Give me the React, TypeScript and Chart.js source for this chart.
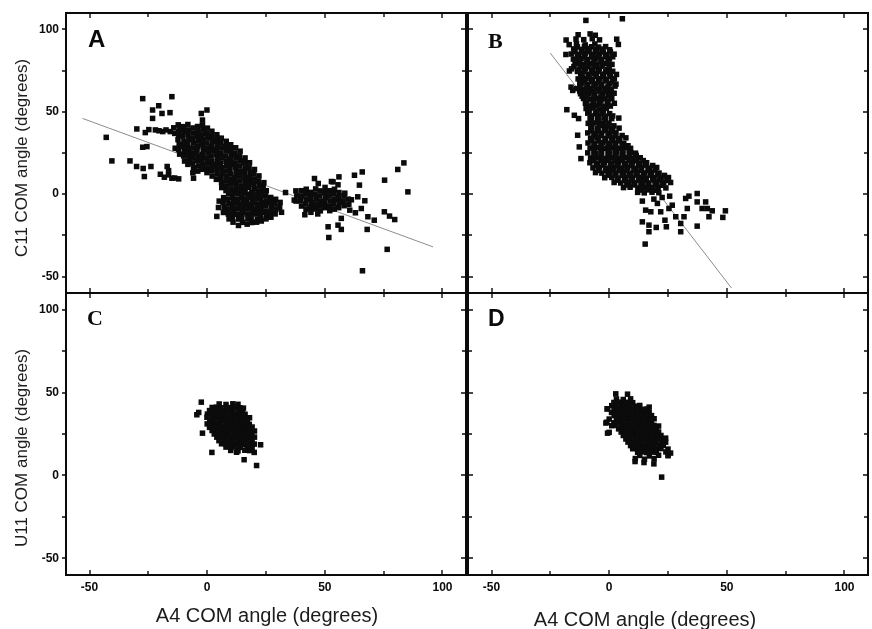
import React, { useEffect, useRef } from "react";
import { Chart, registerables } from "chart.js";

Chart.register(...registerables);

// ---------- axes ----------
const AXIS_MIN = -60;
const AXIS_MAX = 110;
const tickValues = [-50, -25, 0, 25, 50, 75, 100];
const labelledTicks = [-50, 0, 50, 100];

// ---------- titles ----------
const panelLetters = ["A", "B", "C", "D"];
const xTitle = "A4 COM angle (degrees)";
const yTitleTop = "C11 COM angle (degrees)";
const yTitleBottom = "U11 COM angle (degrees)";

// ---------- panel A : A4 vs C11 (simulation 1) ----------
const panelAScatter = [
  [-42.9, 34.5], [-40.5, 20.2], [-32.8, 20.2], [-29.9, 39.6], [-27.4, 58.0], [-26.3, 37.4], [-30.0, 16.8],
  [-27.2, 15.6], [-26.7, 10.7], [-27.4, 28.5], [-25.6, 28.9], [-23.9, 16.8], [-23.2, 51.1], [-20.6, 53.7],
  [-23.2, 46.0], [-19.2, 49.0], [-22.0, 39.0], [-18.9, 38.0], [-19.9, 12.1], [-16.4, 11.7], [-15.0, 59.2],
  [-15.8, 49.5], [-17.0, 16.8], [-16.4, 14.3], [-15.0, 9.7], [-12.1, 9.3], [-13.6, 27.9], [-11.4, 28.9],
  [-15.7, 38.0], [-11.2, 40.0], [-12.1, 38.0], [-5.8, 9.7], [-2.5, 49.0], [-0.1, 51.1], [-2.0, 45.0],
  [4.4, 34.0], [-20.5, 38.5], [-17.5, 39.0], [-24.8, 39.2], [-18.2, 10.3], [-13.8, 9.8],
];
const panelABand = [
  [-14.2, 40.3], [-13.8, 36.9],
  [-12.3, 42.1], [-11.8, 39.2], [-12.1, 36.0], [-12.4, 33.1], [-11.9, 30.2], [-12.2, 27.0], [-11.7, 24.3],
  [-10.1, 41.0], [-9.8, 38.1], [-10.3, 35.2], [-9.9, 32.0], [-10.2, 29.1], [-9.7, 26.0], [-10.0, 23.2], [-9.6, 20.1],
  [-8.2, 42.3], [-7.9, 39.0], [-8.1, 36.1], [-7.8, 33.2], [-8.3, 30.0], [-7.9, 27.1], [-8.0, 24.0], [-7.7, 21.2], [-8.2, 18.1],
  [-6.0, 40.2], [-5.8, 37.1], [-6.2, 34.0], [-5.9, 31.2], [-6.1, 28.1], [-5.7, 25.0], [-6.0, 22.1], [-6.3, 19.0], [-5.8, 16.2], [-6.1, 13.0],
  [-4.1, 41.1], [-3.9, 38.0], [-4.2, 35.1], [-3.8, 32.2], [-4.0, 29.0], [-4.3, 26.1], [-3.9, 23.0], [-4.1, 20.2], [-3.7, 17.1], [-4.0, 14.0],
  [-2.0, 42.0], [-1.8, 39.1], [-2.2, 36.0], [-1.9, 33.1], [-2.1, 30.2], [-1.7, 27.0], [-2.0, 24.1], [-2.3, 21.0], [-1.9, 18.2], [-2.1, 15.1],
  [0.1, 40.1], [-0.2, 37.0], [0.2, 34.2], [-0.1, 31.1], [0.0, 28.0], [0.3, 25.1], [-0.2, 22.0], [0.1, 19.2], [0.2, 16.0], [-0.1, 13.1],
  [2.0, 38.2], [1.8, 35.0], [2.2, 32.1], [1.9, 29.0], [2.1, 26.2], [1.7, 23.1], [2.0, 20.0], [2.3, 17.1], [1.9, 14.2], [2.1, 11.0],
  [4.1, 36.1], [3.8, 33.0], [4.2, 30.2], [3.9, 27.1], [4.0, 24.0], [4.3, 21.2], [3.8, 18.0], [4.1, 15.1], [4.2, 12.2], [3.9, 9.0],
  [6.0, 34.0], [5.8, 31.2], [6.2, 28.1], [5.9, 25.0], [6.1, 22.2], [5.7, 19.0], [6.0, 16.1], [6.3, 13.0], [5.9, 10.2], [6.1, 7.1], [6.2, 4.0],
  [8.1, 32.1], [7.8, 29.0], [8.2, 26.2], [7.9, 23.1], [8.0, 20.0], [8.3, 17.2], [7.8, 14.1], [8.1, 11.0], [8.2, 8.1], [7.9, 5.0], [8.0, 2.2],
  [10.0, 30.0], [9.8, 27.1], [10.2, 24.0], [9.9, 21.2], [10.1, 18.1], [9.7, 15.0], [10.0, 12.2], [10.3, 9.0], [9.9, 6.1], [10.1, 3.0],
  [12.1, 28.2], [11.8, 25.0], [12.2, 22.1], [11.9, 19.0], [12.0, 16.2], [12.3, 13.1], [11.8, 10.0], [12.1, 7.2], [12.2, 4.1], [11.9, 1.0],
  [14.0, 26.1], [13.8, 23.0], [14.2, 20.2], [13.9, 17.1], [14.1, 14.0], [13.7, 11.2], [14.0, 8.1], [14.3, 5.0], [13.9, 2.1],
  [16.1, 22.0], [15.8, 19.1], [16.2, 16.0], [15.9, 13.2], [16.0, 10.1], [16.3, 7.0], [15.8, 4.2], [16.1, 1.1],
  [18.0, 19.1], [17.8, 16.0], [18.2, 13.1], [17.9, 10.0], [18.1, 7.2], [17.7, 4.1],
  [20.1, 15.0], [19.8, 12.2], [20.2, 9.1], [19.9, 6.0], [20.0, 3.1],
  [22.0, 11.1], [21.8, 8.0], [22.2, 5.2], [21.9, 2.0],
  [24.1, 7.0], [23.8, 4.1],
];
const panelALobe = [
  [5.1, -4.2], [4.8, -8.1], [4.1, -13.5],
  [7.0, -2.1], [6.8, -5.0], [7.2, -8.2], [6.9, -11.1],
  [9.1, 0.2], [8.8, -3.1], [9.2, -6.0], [8.9, -9.2], [9.0, -12.1], [9.3, -15.0],
  [11.0, 1.1], [10.8, -2.0], [11.2, -5.1], [10.9, -8.0], [11.1, -11.2], [10.7, -14.1], [11.0, -17.0],
  [13.1, 0.1], [12.8, -3.2], [13.2, -6.1], [12.9, -9.0], [13.0, -12.2], [13.3, -15.1], [13.3, -19.0],
  [15.0, 1.2], [14.8, -2.1], [15.2, -5.0], [14.9, -8.1], [15.1, -11.0], [14.7, -14.2], [15.0, -17.1],
  [17.1, 0.0], [16.8, -3.1], [17.2, -6.2], [16.9, -9.0], [17.0, -12.1], [17.3, -15.0], [17.0, -18.2],
  [19.0, 1.1], [18.8, -2.0], [19.2, -5.1], [18.9, -8.2], [19.1, -11.0], [18.7, -14.1], [19.0, -17.2],
  [21.1, -0.1], [20.8, -3.0], [21.2, -6.1], [20.9, -9.2], [21.0, -12.0], [21.3, -15.1], [21.0, -17.0],
  [23.0, 1.0], [22.8, -2.2], [23.2, -5.0], [22.9, -8.1], [23.1, -11.2], [22.7, -14.0], [23.0, -16.3],
  [25.1, 2.1], [24.8, -1.0], [25.2, -4.1], [24.9, -7.0], [25.0, -10.2], [25.3, -13.1], [25.0, -15.0],
  [27.0, -2.0], [26.8, -5.2], [27.2, -8.0], [26.9, -11.1], [27.1, -14.0],
  [29.1, -3.1], [28.8, -6.0], [29.2, -9.2], [28.9, -12.0],
  [31.0, -5.0], [30.8, -8.1], [31.6, -11.0],
];
const panelARight = [
  [38.1, -1.0], [37.8, -4.2],
  [40.0, 2.1], [40.2, -1.1], [39.8, -4.0], [40.1, -7.2],
  [42.1, 3.0], [41.8, 0.1], [42.2, -3.1], [41.9, -6.0], [42.0, -9.2],
  [44.0, 1.1], [43.8, -2.0], [44.2, -5.1], [43.9, -8.2], [44.1, -11.0],
  [46.1, 3.2], [45.8, 0.0], [46.2, -3.0], [45.9, -6.1], [46.0, -9.0],
  [48.0, 2.0], [47.8, -1.1], [48.2, -4.2], [47.9, -7.0], [48.1, -10.1],
  [50.1, 4.1], [49.8, 1.0], [50.2, -2.0], [49.9, -5.1], [50.0, -8.2],
  [52.0, 2.1], [51.8, -1.0], [52.2, -4.1], [51.9, -7.2], [52.1, -10.0],
  [54.1, 3.0], [53.8, 0.1], [54.2, -3.1], [53.9, -6.0], [54.0, -9.1],
  [56.0, 1.0], [55.8, -2.1], [56.2, -5.0], [55.9, -8.2],
  [58.1, -1.0], [57.8, -4.1], [58.2, -7.0],
  [60.0, -3.0], [60.2, -6.1],
  [33.3, 1.0], [37.7, 2.0], [37.0, -3.6], [45.6, 9.5], [47.2, 6.5], [56.0, 10.5], [53.5, 7.5],
  [62.6, 11.5], [65.9, 13.5], [64.7, 5.5], [75.4, 8.5], [81.0, 15.0], [83.6, 19.0], [85.3, 1.4],
  [67.0, -4.0], [64.0, -1.6], [65.5, -8.7], [63.0, -11.3], [68.3, -13.7], [71.0, -15.8], [68.0, -21.4],
  [75.3, -10.7], [77.5, -13.3], [79.7, -15.4], [51.4, -19.8], [51.7, -26.3], [55.6, -18.8], [57.0, -21.4],
  [57.0, -14.7], [60.6, -9.7], [76.5, -33.5], [66.0, -46.5], [58.5, 0.6], [61.3, -3.4], [52.8, 7.7],
  [55.6, 5.7], [41.5, -12.5], [47.0, -12.0],
];
const panelAFit = [[-53, 46], [96, -32]];

// ---------- panel B : A4 vs C11 (simulation 2) ----------
const panelBScatter = [
  [-9.9, 105.5], [5.6, 106.5], [-18.4, 84.8], [-16.9, 74.8], [-16.2, 65.0], [-15.5, 63.0], [-18.0, 51.3],
  [-14.8, 47.9], [-13.0, 45.9], [-13.4, 35.8], [-12.7, 28.7], [-12.0, 21.6],
  [14.1, -4.2], [15.5, -9.7], [20.5, -5.6], [17.7, -10.7], [21.9, -10.7], [14.1, -16.8], [16.9, -18.8],
  [20.0, -20.2], [16.9, -22.8], [15.3, -30.3], [24.3, -19.8], [23.7, -15.8], [25.4, -8.7], [26.8, -6.7],
  [25.7, -1.2], [28.3, -13.7], [30.4, -17.8], [30.4, -22.8], [31.8, -13.7], [33.2, -8.7], [32.5, -2.6],
  [33.9, -1.2], [37.4, 0.4], [37.4, -4.7], [41.0, -4.7], [39.5, -8.7], [41.7, -8.7], [43.8, -10.1],
  [42.4, -13.7], [37.4, -19.4], [49.4, -10.1], [48.3, -14.1], [19.0, -3.0], [22.5, -2.0],
];
const panelBColumn = [
  [-13.2, 96.8], [-8.1, 97.3], [-5.9, 96.5],
  [-18.3, 93.6], [-14.1, 94.2], [-10.8, 93.8], [-7.2, 94.4], [-4.1, 93.7], [3.2, 94.1],
  [-17.0, 90.8], [-13.9, 91.3], [-10.2, 90.6], [-6.1, 91.2], [3.9, 90.9],
  [-15.1, 88.2], [-11.8, 87.9], [-9.2, 88.4], [-5.9, 87.8], [-3.1, 88.1], [0.2, 87.7],
  [-16.1, 85.1], [-12.9, 84.8], [-10.2, 85.3], [-6.8, 84.9], [-4.1, 85.2], [-0.9, 84.7], [2.1, 85.0],
  [-15.2, 82.0], [-11.9, 82.3], [-9.1, 81.8], [-5.8, 82.2], [-3.2, 81.9], [0.1, 82.1],
  [-13.9, 79.2], [-11.1, 78.8], [-7.8, 79.1], [-5.2, 78.9], [-1.9, 79.3], [1.2, 78.8],
  [-16.0, 76.1], [-12.8, 75.8], [-10.1, 76.2], [-6.9, 75.9], [-4.2, 76.3], [-0.8, 75.7],
  [-12.1, 73.1], [-8.9, 72.8], [-6.2, 73.2], [-2.8, 72.9], [0.1, 73.3], [3.1, 72.7],
  [-13.2, 70.0], [-9.8, 70.3], [-7.1, 69.8], [-3.9, 70.2], [-1.2, 69.9], [2.2, 70.1],
  [-11.9, 67.2], [-9.1, 66.8], [-5.8, 67.1], [-3.2, 66.9], [0.2, 67.3], [2.9, 66.8],
  [-13.8, 64.1], [-11.2, 63.8], [-7.9, 64.2], [-5.1, 63.9], [-1.8, 64.3], [0.9, 63.8],
  [-12.2, 61.0], [-8.8, 61.2], [-6.1, 60.8], [-2.9, 61.1], [0.2, 60.9], [2.1, 61.3],
  [-10.9, 58.1], [-8.2, 57.8], [-4.8, 58.2], [-2.1, 57.9], [1.1, 58.0],
  [-10.1, 55.2], [-6.9, 54.8], [-4.2, 55.1], [-0.8, 54.9], [2.2, 55.2],
  [-9.8, 52.0], [-7.1, 52.3], [-3.9, 51.8], [-1.2, 52.1],
  [-9.1, 49.2], [-5.8, 48.8], [-3.1, 49.1], [0.2, 48.9],
  [-8.1, 46.1], [-4.9, 45.8], [-2.2, 46.2], [1.1, 45.9], [4.1, 46.2],
  [-8.9, 43.0], [-6.1, 43.2], [-2.8, 42.8], [-0.1, 43.1],
  [-7.8, 40.1], [-5.1, 39.8], [-1.9, 40.2], [0.8, 39.9], [4.2, 40.1],
  [-9.1, 37.2], [-5.9, 36.8], [-3.2, 37.1], [0.1, 36.9], [2.9, 37.2],
  [-7.9, 34.0], [-5.2, 34.2], [-1.8, 33.8], [1.1, 34.1], [3.9, 33.9], [7.1, 34.2],
];
const panelBColumnFill = [
  [-13.5, 89.4], [-10.5, 89.6], [-7.5, 89.5], [-4.5, 89.3], [-1.5, 89.6],
  [-14.5, 86.6], [-11.5, 86.4], [-8.5, 86.5], [-5.5, 86.7], [-2.5, 86.4], [0.5, 86.6],
  [-13.5, 83.5], [-10.5, 83.7], [-7.5, 83.4], [-4.5, 83.6], [-1.5, 83.5], [1.5, 83.4],
  [-14.5, 80.6], [-12.5, 80.4], [-9.5, 80.5], [-6.5, 80.7], [-3.5, 80.4], [-0.5, 80.6],
  [-15.0, 77.5], [-12.0, 77.6], [-9.0, 77.4], [-6.0, 77.5], [-3.0, 77.7], [0.0, 77.4],
  [-13.5, 74.5], [-10.5, 74.4], [-7.5, 74.6], [-4.5, 74.5], [-1.5, 74.3], [1.5, 74.6],
  [-11.5, 71.6], [-8.5, 71.4], [-5.5, 71.5], [-2.5, 71.6], [0.5, 71.4],
  [-12.5, 68.5], [-10.5, 68.6], [-7.5, 68.4], [-4.5, 68.5], [-1.5, 68.7], [1.5, 68.4],
  [-12.5, 65.5], [-9.5, 65.4], [-6.5, 65.6], [-3.5, 65.5], [-0.5, 65.3], [2.5, 65.6],
  [-12.5, 62.6], [-10.0, 62.4], [-7.0, 62.5], [-4.0, 62.6], [-1.0, 62.4],
  [-11.5, 59.5], [-9.5, 59.6], [-6.5, 59.4], [-3.5, 59.5], [-0.5, 59.6],
  [-9.5, 56.5], [-6.5, 56.4], [-3.5, 56.6], [-0.5, 56.5],
  [-8.5, 53.5], [-5.5, 53.6], [-2.5, 53.4], [0.5, 53.5],
  [-8.5, 50.6], [-5.5, 50.4], [-2.5, 50.5],
  [-7.5, 47.5], [-4.5, 47.6], [-1.5, 47.4], [1.5, 47.5],
  [-7.5, 44.6], [-4.5, 44.4], [-1.5, 44.5],
  [-7.5, 41.5], [-4.0, 41.6], [-1.0, 41.4], [2.0, 41.5],
  [-7.5, 38.5], [-4.5, 38.4], [-1.5, 38.6], [1.5, 38.5],
  [-6.5, 35.5], [-3.5, 35.6], [-0.5, 35.4], [2.5, 35.5], [5.5, 35.6],
  [-7.5, 32.6], [-4.5, 32.4], [-1.5, 32.5], [1.5, 32.6], [4.5, 32.4],
];
const panelBBand = [
  [-9.0, 31.1], [-6.1, 30.8], [-2.9, 31.2], [0.2, 30.9], [2.8, 31.1], [6.2, 30.8],
  [-8.1, 28.0], [-4.9, 28.2], [-2.1, 27.8], [1.1, 28.1], [3.9, 27.9], [7.2, 28.2], [9.1, 27.8],
  [-9.1, 25.1], [-5.8, 24.8], [-3.2, 25.2], [0.1, 24.9], [3.1, 25.1], [5.9, 24.8], [9.1, 25.2], [11.2, 24.9],
  [-7.9, 22.0], [-5.1, 22.2], [-1.8, 21.8], [0.9, 22.1], [4.2, 21.9], [6.9, 22.2], [10.1, 21.8], [13.2, 22.1],
  [-8.2, 19.1], [-4.9, 18.8], [-2.1, 19.2], [1.2, 18.9], [3.9, 19.1], [7.1, 18.8], [9.8, 19.2], [13.1, 18.9], [15.9, 19.1],
  [-6.9, 16.0], [-4.1, 16.2], [-0.8, 15.8], [2.1, 16.1], [5.2, 15.9], [7.9, 16.2], [11.1, 15.8], [13.8, 16.1], [17.1, 15.9], [20.2, 16.2],
  [-5.8, 13.1], [-3.1, 12.8], [0.2, 13.2], [2.9, 12.9], [6.1, 13.1], [9.2, 12.8], [11.9, 13.2], [15.1, 12.9], [17.9, 13.1], [21.2, 12.8],
  [-1.9, 10.0], [1.1, 10.2], [3.8, 9.8], [7.1, 10.1], [9.9, 9.9], [13.2, 10.2], [15.8, 9.8], [19.1, 10.1], [22.1, 9.9], [25.2, 10.1],
  [2.1, 7.1], [4.9, 6.8], [8.2, 7.2], [10.9, 6.9], [14.1, 7.1], [16.8, 6.8], [20.1, 7.2], [23.2, 6.9], [26.1, 7.1],
  [6.1, 4.0], [8.9, 4.2], [12.2, 3.8], [14.9, 4.1], [18.1, 3.9], [20.8, 4.2], [24.1, 3.8],
  [12.1, 1.1], [14.9, 0.8], [18.2, 1.2], [21.1, 0.9],
];
const panelBBandFill = [
  [-6.5, 29.5], [-3.5, 29.6], [-0.5, 29.4], [2.5, 29.5], [5.5, 29.6], [8.0, 29.4],
  [-6.5, 26.5], [-3.5, 26.4], [-0.5, 26.6], [2.5, 26.5], [5.5, 26.4], [8.5, 26.6],
  [-6.5, 23.5], [-3.5, 23.6], [-0.5, 23.4], [2.5, 23.5], [5.5, 23.6], [8.5, 23.4], [11.5, 23.5],
  [-6.5, 20.5], [-3.5, 20.4], [-0.5, 20.6], [2.5, 20.5], [5.5, 20.4], [8.5, 20.6], [11.5, 20.5], [14.5, 20.4],
  [-5.5, 17.5], [-2.5, 17.6], [0.5, 17.4], [3.5, 17.5], [6.5, 17.6], [9.5, 17.4], [12.5, 17.5], [15.5, 17.6], [18.5, 17.4],
  [-4.5, 14.5], [-1.5, 14.4], [1.5, 14.6], [4.5, 14.5], [7.5, 14.4], [10.5, 14.6], [13.5, 14.5], [16.5, 14.4], [19.5, 14.6],
  [-0.5, 11.5], [2.5, 11.6], [5.5, 11.4], [8.5, 11.5], [11.5, 11.6], [14.5, 11.4], [17.5, 11.5], [20.5, 11.6], [23.5, 11.4],
  [3.5, 8.5], [6.5, 8.4], [9.5, 8.6], [12.5, 8.5], [15.5, 8.4], [18.5, 8.6], [21.5, 8.5], [24.5, 8.4],
  [7.5, 5.5], [10.5, 5.6], [13.5, 5.4], [16.5, 5.5], [19.5, 5.6], [22.5, 5.4],
  [13.5, 2.5], [16.5, 2.6], [19.5, 2.4],
];
const panelBFit = [[-25, 85.6], [52, -57]];

// ---------- panel C : A4 vs U11 (simulation 1) ----------
const panelCPoints = [
  [-2.5, 44.2], [-4.4, 36.6], [-3.6, 38.0], [-2.0, 25.5], [2.0, 13.9], [15.7, 9.5], [21.0, 6.0],
  [20.0, 13.9], [22.7, 18.5], [15.4, 40.6], [12.5, 14.0], [18.0, 15.0],
  [5.1, 43.1], [8.0, 42.8], [10.9, 43.2], [13.1, 42.9],
  [2.1, 41.0], [4.0, 41.2], [5.9, 40.8], [8.1, 41.1], [10.0, 40.9], [12.1, 41.2], [13.9, 40.8],
  [1.0, 39.1], [3.1, 38.8], [4.9, 39.2], [7.1, 38.9], [9.0, 39.1], [10.9, 38.8], [13.1, 39.2], [15.0, 38.9],
  [0.1, 37.0], [1.9, 37.2], [4.1, 36.8], [6.0, 37.1], [7.9, 36.9], [10.1, 37.2], [12.0, 36.8], [13.9, 37.1], [16.1, 36.9],
  [-0.1, 35.1], [2.1, 34.8], [3.9, 35.2], [6.1, 34.9], [8.0, 35.1], [9.9, 34.8], [12.1, 35.2], [14.0, 34.9], [15.9, 35.1], [18.0, 34.8],
  [1.1, 33.0], [2.9, 33.2], [5.0, 32.8], [7.1, 33.1], [8.9, 32.9], [11.0, 33.2], [13.1, 32.8], [14.9, 33.1], [17.1, 32.9],
  [0.0, 31.1], [2.1, 30.8], [4.0, 31.2], [5.9, 30.9], [8.1, 31.1], [10.0, 30.8], [11.9, 31.2], [14.1, 30.9], [16.0, 31.1], [17.9, 30.8],
  [1.0, 29.0], [3.1, 29.2], [4.9, 28.8], [7.0, 29.1], [9.1, 28.9], [11.0, 29.2], [12.9, 28.8], [15.1, 29.1], [17.0, 28.9], [19.1, 29.2],
  [2.1, 27.1], [3.9, 26.8], [6.0, 27.2], [8.1, 26.9], [9.9, 27.1], [12.0, 26.8], [14.1, 27.2], [15.9, 26.9], [18.0, 27.1], [20.1, 26.8],
  [3.0, 25.0], [5.1, 25.2], [7.0, 24.8], [8.9, 25.1], [11.1, 24.9], [13.0, 25.2], [14.9, 24.8], [17.1, 25.1], [19.0, 24.9],
  [4.1, 23.1], [5.9, 22.8], [8.0, 23.2], [10.1, 22.9], [11.9, 23.1], [14.0, 22.8], [16.1, 23.2], [18.0, 22.9], [20.1, 23.1],
  [5.0, 21.0], [7.1, 21.2], [8.9, 20.8], [11.0, 21.1], [13.1, 20.9], [15.0, 21.2], [16.9, 20.8], [19.1, 21.1],
  [6.1, 19.1], [8.0, 18.8], [9.9, 19.2], [12.1, 18.9], [14.0, 19.1], [15.9, 18.8], [18.1, 19.2], [20.0, 18.9],
  [8.0, 17.1], [10.1, 16.8], [11.9, 17.2], [14.1, 16.9], [17.0, 17.1], [19.1, 16.8],
  [10.0, 15.1], [13.1, 14.8], [16.0, 15.2],
];

// ---------- panel D : A4 vs U11 (simulation 2) ----------
const panelDPoints = [
  [22.3, -1.0], [2.8, 49.2], [7.8, 49.0], [-0.7, 40.2], [-1.4, 31.6], [-0.7, 25.5], [11.0, 8.4],
  [14.8, 7.8], [19.0, 7.0], [25.1, 12.5], [24.0, 22.5], [17.0, 41.2], [26.1, 13.5],
  [3.1, 46.1], [6.0, 45.8], [9.1, 46.2],
  [2.0, 44.0], [4.1, 44.2], [5.9, 43.8], [8.1, 44.1], [10.0, 43.9],
  [1.1, 42.1], [2.9, 41.8], [5.1, 42.2], [7.0, 41.9], [8.9, 42.1], [11.1, 41.8], [13.0, 42.2],
  [-0.9, 40.1], [2.1, 39.8], [3.9, 40.2], [6.1, 39.9], [8.0, 40.1], [9.9, 39.8], [12.1, 40.2], [14.0, 39.9], [16.1, 40.1],
  [1.0, 38.0], [3.1, 38.2], [4.9, 37.8], [7.1, 38.1], [8.9, 37.9], [11.0, 38.2], [13.1, 37.8], [14.9, 38.1], [17.0, 37.9],
  [2.1, 36.1], [3.9, 35.8], [6.0, 36.2], [8.1, 35.9], [9.9, 36.1], [12.0, 35.8], [14.1, 36.2], [15.9, 35.9], [18.0, 36.1],
  [0.0, 34.0], [3.1, 34.2], [5.0, 33.8], [6.9, 34.1], [9.1, 33.9], [11.0, 34.2], [12.9, 33.8], [15.1, 34.1], [17.0, 33.9], [19.1, 34.2],
  [-1.0, 32.1], [2.0, 31.8], [4.1, 32.2], [5.9, 31.9], [8.0, 32.1], [10.1, 31.8], [11.9, 32.2], [14.0, 31.9], [16.1, 32.1], [18.0, 31.8],
  [1.1, 30.0], [2.9, 30.2], [5.1, 29.8], [7.0, 30.1], [8.9, 29.9], [11.1, 30.2], [13.0, 29.8], [14.9, 30.1], [17.1, 29.9], [19.0, 30.2], [21.0, 29.8],
  [4.0, 28.1], [6.1, 27.8], [7.9, 28.2], [10.0, 27.9], [12.1, 28.1], [14.0, 27.8], [15.9, 28.2], [18.1, 27.9], [20.0, 28.1],
  [0.0, 26.0], [5.1, 26.2], [6.9, 25.8], [9.0, 26.1], [11.1, 25.9], [13.0, 26.2], [14.9, 25.8], [17.0, 26.1], [19.1, 25.9], [21.0, 26.2],
  [6.0, 24.1], [8.1, 23.8], [9.9, 24.2], [12.0, 23.9], [14.1, 24.1], [16.0, 23.8], [17.9, 24.2], [20.1, 23.9], [22.0, 24.1],
  [7.1, 22.0], [8.9, 22.2], [11.0, 21.8], [13.1, 22.1], [15.0, 21.9], [16.9, 22.2], [19.0, 21.8], [21.1, 22.1], [23.0, 21.9],
  [8.0, 20.1], [10.1, 19.8], [12.0, 20.2], [13.9, 19.9], [16.1, 20.1], [18.0, 19.8], [19.9, 20.2], [22.1, 19.9], [24.0, 20.1],
  [9.1, 18.0], [11.0, 18.2], [12.9, 17.8], [15.1, 18.1], [17.0, 17.9], [18.9, 18.2], [21.1, 17.8], [23.0, 18.1],
  [10.0, 16.1], [12.1, 15.8], [14.0, 16.2], [15.9, 15.9], [18.1, 16.1], [20.0, 15.8], [22.0, 16.2], [25.0, 15.9],
  [12.1, 14.0], [13.9, 14.2], [16.0, 13.8], [18.1, 14.1], [20.0, 13.9], [24.1, 14.2],
  [13.0, 12.1], [17.1, 11.8], [21.0, 12.2], [25.0, 11.9],
  [11.1, 10.2], [15.0, 9.8], [19.1, 10.1],
];

// ---------- drawing ----------
const SANS = "'Liberation Sans', Arial, sans-serif";
const SERIF = "'Liberation Serif', 'Times New Roman', serif";
const INK = "#0b0b0b";

const toXY = (pts: number[][]) => pts.map(([x, y]) => ({ x, y }));

const framePlugin = {
  id: "frame",
  afterDatasetsDraw(chart: any, _args: any, opts: any) {
    const { ctx, chartArea: a, scales } = chart;
    const xs = scales.x;
    const ys = scales.y;
    ctx.save();
    ctx.strokeStyle = INK;
    ctx.lineWidth = 2;
    ctx.strokeRect(a.left, a.top, a.right - a.left, a.bottom - a.top);
    ctx.lineWidth = 1.4;
    ctx.beginPath();
    for (const v of tickValues) {
      const len = v % 50 === 0 ? 5 : 4;
      const px = Math.round(xs.getPixelForValue(v));
      ctx.moveTo(px, a.top);
      ctx.lineTo(px, a.top + len);
      ctx.moveTo(px, a.bottom);
      ctx.lineTo(px, a.bottom - len);
      const py = Math.round(ys.getPixelForValue(v));
      if (opts.leftOut) {
        ctx.moveTo(a.left, py);
        ctx.lineTo(a.left - 4, py);
      } else {
        ctx.moveTo(a.left, py);
        ctx.lineTo(a.left + len, py);
      }
      ctx.moveTo(a.right, py);
      ctx.lineTo(a.right - len, py);
    }
    ctx.stroke();
    ctx.restore();
  },
};

type PanelProps = {
  points: number[][];
  fit?: number[][];
  left: number;
  top: number;
  w: number;
  h: number;
  pad: { left: number; top: number; right: number; bottom: number };
  showX: boolean;
  showY: boolean;
};

function Panel(p: PanelProps) {
  const ref = useRef<HTMLCanvasElement>(null);
  useEffect(() => {
    const tickFont = { family: SANS, weight: "bold" as const, size: 12 };
    const datasets: any[] = [
      {
        data: toXY(p.points),
        pointStyle: "rect",
        pointRadius: 3.9,
        pointBorderWidth: 0,
        backgroundColor: INK,
        borderColor: INK,
        showLine: false,
        order: 1,
      },
    ];
    if (p.fit) {
      datasets.push({
        data: toXY(p.fit),
        showLine: true,
        pointRadius: 0,
        borderColor: "#8c8c8c",
        borderWidth: 1,
        order: 2,
      });
    }
    const chart = new Chart(ref.current as HTMLCanvasElement, {
      type: "scatter",
      data: { datasets },
      options: {
        responsive: false,
        animation: false,
        devicePixelRatio: 1,
        events: [],
        layout: { padding: p.pad },
        plugins: {
          legend: { display: false },
          tooltip: { enabled: false },
          frame: { leftOut: p.showY },
        } as any,
        scales: {
          x: {
            type: "linear",
            min: AXIS_MIN,
            max: AXIS_MAX,
            display: p.showX,
            afterFit: (s: any) => {
              s.height = p.showX ? 54 : 0;
            },
            grid: { display: false, drawTicks: false },
            border: { display: false },
            ticks: {
              stepSize: 25,
              includeBounds: false,
              autoSkip: false,
              maxRotation: 0,
              padding: 5,
              color: INK,
              font: tickFont,
              callback: (v: any) => (labelledTicks.includes(Number(v)) ? String(v) : ""),
            },
          },
          y: {
            type: "linear",
            min: AXIS_MIN,
            max: AXIS_MAX,
            display: p.showY,
            afterFit: (s: any) => {
              s.width = p.showY ? 66 : 0;
            },
            grid: { display: false, drawTicks: false },
            border: { display: false },
            ticks: {
              stepSize: 25,
              includeBounds: false,
              autoSkip: false,
              padding: 7,
              color: INK,
              font: tickFont,
              callback: (v: any) => (labelledTicks.includes(Number(v)) ? String(v) : ""),
            },
          },
        },
      },
      plugins: [framePlugin as any],
    });
    return () => chart.destroy();
  }, []);
  return (
    <canvas
      ref={ref}
      width={p.w}
      height={p.h}
      style={{ position: "absolute", left: p.left, top: p.top, width: p.w, height: p.h }}
    />
  );
}

const abs = (extra: React.CSSProperties): React.CSSProperties => ({
  position: "absolute",
  whiteSpace: "nowrap",
  color: INK,
  ...extra,
});

export default function App() {
  const panelA = [...panelAScatter, ...panelABand, ...panelALobe, ...panelARight];
  const panelB = [...panelBScatter, ...panelBColumn, ...panelBColumnFill, ...panelBBand, ...panelBBandFill];
  return (
    <div
      style={{
        position: "fixed",
        left: 0,
        top: 0,
        width: 872,
        height: 629,
        background: "#ffffff",
        overflow: "hidden",
      }}
    >
      <Panel points={panelA} fit={panelAFit} left={0} top={-10} w={470} h={326}
        pad={{ left: 0, top: 23, right: 3, bottom: 23 }} showX={false} showY={true} />
      <Panel points={panelB} fit={panelBFit} left={464} top={-10} w={408} h={326}
        pad={{ left: 3, top: 23, right: 2, bottom: 23 }} showX={false} showY={false} />
      <Panel points={panelCPoints} left={0} top={270} w={470} h={359}
        pad={{ left: 0, top: 23, right: 3, bottom: 0 }} showX={true} showY={true} />
      <Panel points={panelDPoints} left={464} top={270} w={408} h={359}
        pad={{ left: 3, top: 23, right: 2, bottom: 0 }} showX={true} showY={false} />

      <div style={abs({ left: 88, top: 27.4, font: `bold 24px ${SANS}`, lineHeight: "24px" })}>{panelLetters[0]}</div>
      <div style={abs({ left: 488, top: 29.5, font: `bold 22px ${SERIF}`, lineHeight: "22px" })}>{panelLetters[1]}</div>
      <div style={abs({ left: 87, top: 306.5, font: `bold 22px ${SERIF}`, lineHeight: "22px" })}>{panelLetters[2]}</div>
      <div style={abs({ left: 488, top: 307.3, font: `bold 23px ${SANS}`, lineHeight: "23px" })}>{panelLetters[3]}</div>

      <div style={abs({ left: 20.5, top: 158, font: `17px ${SANS}`, lineHeight: "17px", color: "#1c1c1c", transform: "translate(-50%, -50%) rotate(-90deg)" })}>{yTitleTop}</div>
      <div style={abs({ left: 20.5, top: 447.5, font: `17px ${SANS}`, lineHeight: "17px", color: "#1c1c1c", transform: "translate(-50%, -50%) rotate(-90deg)" })}>{yTitleBottom}</div>

      <div style={abs({ left: 267, top: 605.4, font: `20px ${SANS}`, lineHeight: "20px", color: "#1c1c1c", transform: "translateX(-50%)" })}>{xTitle}</div>
      <div style={abs({ left: 645, top: 609, font: `20px ${SANS}`, lineHeight: "20px", color: "#1c1c1c", transform: "translateX(-50%)" })}>{xTitle}</div>
    </div>
  );
}
